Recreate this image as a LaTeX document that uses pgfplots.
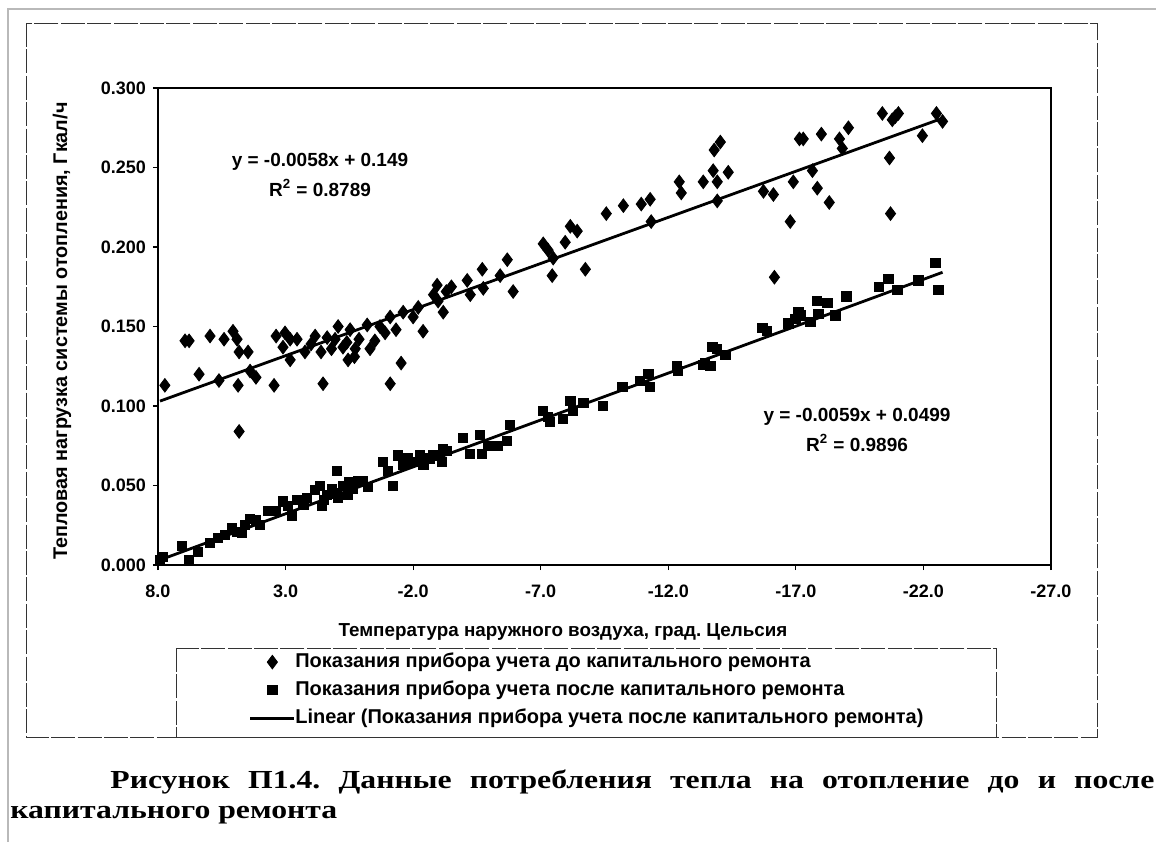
\documentclass[border=0pt]{standalone}
\usepackage{pgfplots}
\pgfplotsset{compat=1.18}
\usepackage{fontspec}
\setmainfont{Liberation Sans}
\newfontfamily\capfont[FakeStretch=1.22]{Liberation Serif}

\pgfplotstableread{
x y
7.73 0.113
6.94 0.141
6.78 0.141
6.39 0.120
5.96 0.144
5.61 0.116
5.41 0.142
5.06 0.147
4.90 0.142
4.86 0.113
4.82 0.134
4.82 0.084
4.47 0.134
4.39 0.122
4.16 0.118
3.45 0.113
3.37 0.144
3.10 0.137
3.02 0.146
2.82 0.142
2.82 0.129
2.55 0.142
2.24 0.134
2.00 0.139
1.84 0.144
1.61 0.134
1.53 0.114
1.37 0.143
1.20 0.136
1.06 0.142
0.94 0.150
0.75 0.137
0.60 0.140
0.55 0.129
0.47 0.148
0.30 0.131
0.27 0.136
0.12 0.142
-0.20 0.151
-0.31 0.136
-0.50 0.141
-0.70 0.150
-0.90 0.146
-1.10 0.156
-1.10 0.114
-1.33 0.148
-1.53 0.127
-1.61 0.159
-2.00 0.156
-2.20 0.162
-2.39 0.147
-2.80 0.170
-2.94 0.176
-2.98 0.166
-3.18 0.159
-3.30 0.172
-3.50 0.175
-4.12 0.179
-4.24 0.170
-4.71 0.186
-4.75 0.174
-5.41 0.182
-5.69 0.192
-5.92 0.172
-7.10 0.202
-7.29 0.198
-7.45 0.182
-7.49 0.193
-7.96 0.203
-8.16 0.213
-8.43 0.210
-8.75 0.186
-9.57 0.221
-10.24 0.226
-10.94 0.227
-11.29 0.230
-11.33 0.216
-12.43 0.241
-12.51 0.234
-13.37 0.241
-13.76 0.248
-13.80 0.261
-13.92 0.241
-13.92 0.229
-14.04 0.266
-14.35 0.247
-15.73 0.235
-16.12 0.233
-16.16 0.181
-16.78 0.216
-16.90 0.241
-17.14 0.268
-17.29 0.268
-17.65 0.248
-17.84 0.237
-18.00 0.271
-18.31 0.228
-18.71 0.268
-18.82 0.262
-19.06 0.275
-20.39 0.284
-20.67 0.256
-20.71 0.221
-20.78 0.280
-20.90 0.282
-21.02 0.284
-21.96 0.270
-22.51 0.284
-22.75 0.279
}\before

\pgfplotstableread{
x y
7.92 0.003
7.80 0.005
7.06 0.012
6.78 0.003
6.43 0.008
5.96 0.014
5.65 0.017
5.37 0.019
5.10 0.023
4.90 0.021
4.71 0.020
4.59 0.025
4.39 0.029
4.16 0.028
4.00 0.025
3.69 0.034
3.37 0.034
3.10 0.040
2.90 0.037
2.75 0.031
2.55 0.041
2.30 0.038
2.16 0.042
1.84 0.047
1.65 0.050
1.57 0.037
1.50 0.041
1.37 0.044
1.18 0.048
1.00 0.045
0.98 0.059
0.94 0.042
0.75 0.050
0.55 0.044
0.50 0.052
0.35 0.048
0.16 0.053
-0.04 0.053
-0.24 0.049
-0.82 0.065
-1.02 0.059
-1.22 0.050
-1.41 0.069
-1.61 0.063
-1.80 0.067
-2.00 0.065
-2.27 0.069
-2.40 0.063
-2.67 0.067
-2.78 0.069
-2.94 0.069
-3.14 0.065
-3.18 0.073
-3.33 0.072
-3.96 0.080
-4.24 0.070
-4.63 0.082
-4.71 0.070
-4.94 0.075
-5.33 0.075
-5.69 0.078
-5.80 0.088
-7.10 0.097
-7.29 0.093
-7.37 0.090
-7.88 0.092
-8.16 0.103
-8.27 0.097
-8.67 0.102
-9.45 0.100
-10.20 0.112
-10.90 0.116
-11.22 0.120
-11.29 0.112
-12.35 0.125
-12.39 0.122
-13.37 0.126
-13.45 0.127
-13.65 0.125
-13.73 0.137
-13.92 0.136
-14.24 0.132
-15.69 0.149
-15.88 0.147
-16.71 0.152
-16.98 0.155
-17.10 0.159
-17.18 0.157
-17.57 0.153
-17.84 0.166
-17.88 0.158
-18.24 0.165
-18.55 0.157
-18.98 0.169
-20.24 0.175
-20.63 0.180
-20.98 0.173
-21.80 0.179
-22.47 0.190
-22.59 0.173
}\after

\pgfplotsset{
  markleg/.style={legend image code/.code={\pgfpathrectangle{\pgfpoint{0pt}{-3pt}}{\pgfpoint{22pt}{6pt}}\pgfusepath{use as bounding box}\draw[mark repeat=2,mark phase=2,##1] plot coordinates {(0pt,0pt)(11pt,0pt)(22pt,0pt)};}},
  lineleg/.style={legend image code/.code={\pgfpathrectangle{\pgfpoint{0pt}{-3pt}}{\pgfpoint{22pt}{6pt}}\pgfusepath{use as bounding box}\draw[##1] (0pt,0pt) -- (22pt,0pt);}},
}

\begin{document}
\frenchspacing
\begin{tikzpicture}
\useasboundingbox (0pt,0pt) rectangle (578pt,-421pt);
% page border (scan)
\draw[gray!55, line width=0.8pt] (4pt,-421pt) -- (4pt,-4.5pt) -- (578pt,-4.5pt);
% chart frame
\draw[black!80, line width=0.4pt, dash pattern=on 12pt off 1.2pt] (13pt,-11.5pt) rectangle (548.5pt,-368.5pt);
\begin{axis}[
  at={(79pt,-282.5pt)}, anchor=south west,
  scale only axis, width=446.5pt, height=238.5pt,
  xmin=-27, xmax=8, x dir=reverse,
  ymin=0, ymax=0.3,
  xtick={8,3,-2,-7,-12,-17,-22,-27},
  ytick={0,0.05,0.1,0.15,0.2,0.25,0.3},
  scaled ticks=false,
  x tick label style={yshift=-4pt, /pgf/number format/.cd, fixed, fixed zerofill, precision=1, assume math mode=true},
  y tick label style={/pgf/number format/.cd, fixed, fixed zerofill, precision=3, assume math mode=true},
  ticklabel style={font=\bfseries\fontsize{9}{10}\selectfont},
  tick align=outside, major tick length=2.5pt,
  xtick pos=bottom, ytick pos=left,
  tick style={black, line width=0.6pt},
  axis line style={line width=1pt},
  xlabel={Температура наружного воздуха, град. Цельсия},
  ylabel={Тепловая нагрузка системы отопления, Гкал/ч},
  xlabel style={font=\bfseries\fontsize{9.4}{10}\selectfont, at={(axis description cs:0.4535,-0.1405)}, anchor=center},
  ylabel style={font=\bfseries\fontsize{9.9}{10}\selectfont, at={(axis description cs:-0.1075,0.4906)}, anchor=center, rotate=0},
  clip=false,
  legend cell align=left,
  legend style={at={(axis description cs:0.103,-0.1803)}, anchor=north west,
     draw=none, fill=none, inner sep=0pt, row sep=3.3pt,
     font=\bfseries\fontsize{10}{11}\selectfont,
     nodes={text height=7.5pt, text depth=2.2pt, inner sep=0.5pt, anchor=west}},
]
\addplot[only marks, mark=diamond*, mark size=3.4pt, black, markleg]
  table[x=x,y=y]{\before};
\addlegendentry{Показания прибора учета до капитального ремонта}
\addplot[only marks, mark=square*, mark size=2.3pt, black, markleg]
  table[x=x,y=y]{\after};
\addlegendentry{Показания прибора учета после капитального ремонта}
\addplot[black, line width=1.4pt, no marks, lineleg]
  coordinates {(7.92,0.1031) (-22.75,0.2810)};
\addlegendentry{Linear (Показания прибора учета после капитального ремонта)}
\addplot[black, line width=1.4pt, no marks, forget plot]
  coordinates {(7.92,0.0032) (-22.75,0.1841)};
\end{axis}
% legend box
\draw[black!80, line width=0.4pt, dash pattern=on 12pt off 1.2pt] (88pt,-324pt) rectangle (498pt,-368.5pt);
% equations
\node[font=\bfseries\fontsize{9.5}{11}\selectfont] at (160pt,-81pt) {y = -0.0058x + 0.149};
\node[font=\bfseries\fontsize{9.5}{11}\selectfont] at (160pt,-94pt) {R\textsuperscript{2} = 0.8789};
\node[font=\bfseries\fontsize{9.5}{11}\selectfont] at (428.5pt,-208.5pt) {y = -0.0059x + 0.0499};
\node[font=\bfseries\fontsize{9.5}{11}\selectfont] at (428.5pt,-221.5pt) {R\textsuperscript{2} = 0.9896};
% caption
\node[anchor=base west, inner sep=0pt, font=\capfont\bfseries\fontsize{13}{15}\selectfont] at (55pt,-394pt)
  {\makebox[522pt][s]{Рисунок П1.4. Данные потребления тепла на отопление до и после}};
\node[anchor=base west, inner sep=0pt, font=\capfont\bfseries\fontsize{13}{15}\selectfont] at (5pt,-409pt)
  {капитального ремонта};
\end{tikzpicture}
\end{document}
